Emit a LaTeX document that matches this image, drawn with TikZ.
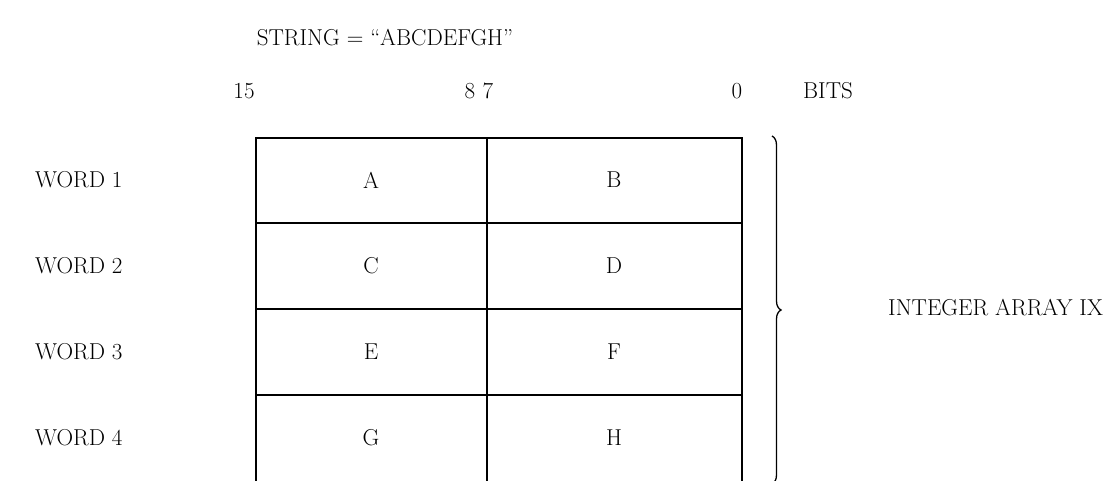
\documentclass[tikz,border=0pt]{standalone}
\usetikzlibrary{decorations.pathreplacing}
\begin{document}
\begin{tikzpicture}[x=1pt,y=-1pt,
  lbl/.style={font=\fontsize{23}{26}\selectfont, inner sep=0pt},
  grid/.style={line width=1.8pt},
  brc/.style={line width=1.3pt, decorate, decoration={brace, amplitude=9pt}}]
\useasboundingbox (0,0) rectangle (1120,481);
% title and bit labels
\node[lbl] (title) at (385,38) {STRING = ``ABCDEFGH''};
\node[lbl] (b15) at (244,91) {15};
\node[lbl] (b8) at (470,91) {8};
\node[lbl] (b7) at (488,91) {7};
\node[lbl] (b0) at (737,91) {0};
\node[lbl, anchor=west] (bits) at (803,91) {BITS};
% table corners
\coordinate (tl) at (256,138);
\coordinate (tm) at (487,138);
\coordinate (tr) at (742,138);
\coordinate (bl) at (256,481);
\coordinate (bm) at (487,481);
\coordinate (br) at (742,481);
\draw[grid] (bl) -- (tl) -- (tr) -- (br);
\draw[grid] (tm) -- (bm);
\foreach \y in {223,309,395} \draw[grid] (256,\y) -- (742,\y);
% cell letters and word labels
\foreach \a/\b/\n/\y in {A/B/1/180, C/D/2/266, E/F/3/352, G/H/4/438}{
  \node[lbl] (l\n) at (371,\y) {\a};
  \node[lbl] (r\n) at (614,\y) {\b};
  \node[lbl, anchor=west] (w\n) at (35,\y) {WORD \n};
}
% brace
\coordinate (bt) at (772,136);
\coordinate (bb) at (772,484);
\draw[brc] (bt) -- (bb);
\node[lbl, anchor=west] (ix) at (888,308) {INTEGER ARRAY IX};
\end{tikzpicture}
\end{document}
